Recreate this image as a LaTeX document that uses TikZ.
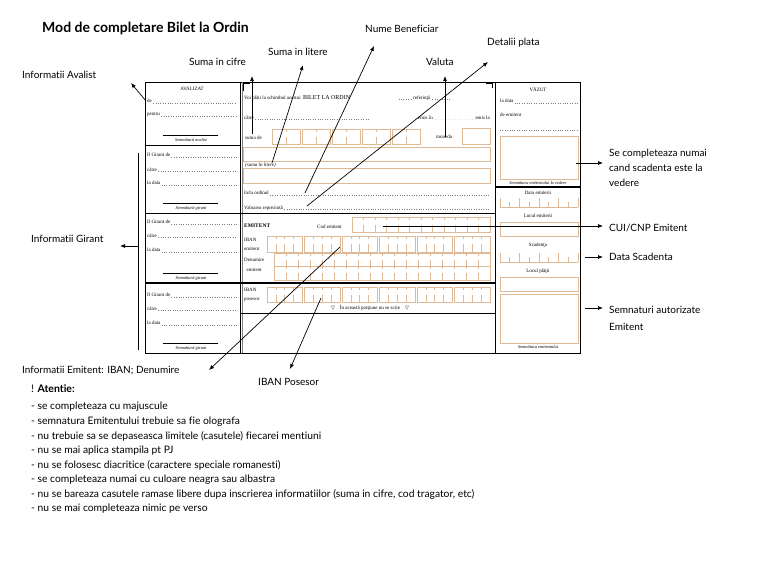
\documentclass[tikz,border=0pt]{standalone}
\usepackage{fontspec}
\setmainfont{Liberation Serif}
\newfontfamily\lato[Ligatures=NoCommon]{Lato}
\newfontfamily\symf{DejaVu Sans}
\usetikzlibrary{positioning,arrows.meta}
\definecolor{cellc}{RGB}{222,186,152}
\definecolor{dotc}{RGB}{125,125,125}
\tikzset{
	ft/.style={font=\fontsize{5}{6}\selectfont, inner sep=0pt, anchor=west},
	ftc/.style={ft, anchor=center},
	fti/.style={ft, anchor=center, font=\fontsize{4.4}{5}\selectfont\itshape},
	lbl/.style={font=\lato\fontsize{10}{12}\selectfont, inner sep=0pt, anchor=west},
	lead/.style={dotc, dotted, line width=0.4pt},
	cellline/.style={cellc, line width=0.6pt},
	callout/.style={-{Latex[length=5pt,width=4pt]}, line width=0.7pt},
	pics/cells/.style n args={3}{code={
		\draw[cellline] (0,0) rectangle (#1,#2);
		\pgfmathtruncatemacro\nlast{#3-1}
		\foreach \k in {1,...,\nlast}
			\draw[cellline] ({\k*#1/#3},#2) -- ++(0,{-0.5*#2}) ({\k*#1/#3},0) -- ++(0,{0.2*#2});
	}},
	pics/ruler/.style n args={2}{code={
		\draw[cellline] (0,0) -- (#1,0);
		\foreach \k in {0,...,#2} {
			\pgfmathsetmacro\h{ifthenelse(mod(\k,2)==0,9,5)}
			\draw[cellline] ({\k*#1/#2},0) -- ++(0,-\h);
		}
	}}
}

\begin{document}
\begin{tikzpicture}[x=1pt, y=-1pt, node distance=2pt]
\useasboundingbox (0,0) rectangle (768,576);

% FORM FRAME
\draw[line width=1pt] (145,82) rectangle (580,353);
\draw[line width=0.9pt] (240,82) -- (240,353);
\draw[gray, line width=0.4pt] (242.5,82) -- (242.5,353);
\draw[line width=0.9pt] (495,82) -- (495,353);
\draw[line width=0.7pt] (145,145) -- (240,145);
\draw[line width=0.9pt] (145,213) -- (495,213);
\draw[line width=1.1pt] (145,283) -- (495,283);
\draw[line width=0.6pt] (240,313) -- (495,313);
\draw[line width=1.1pt] (495,187) -- (580,187);
\draw[line width=1.6pt] (243.5,91) -- (243.5,83) -- (250,83);
\draw[line width=1.6pt] (486,83) -- (492.5,83) -- (492.5,88);
\coordinate (lcol) at (237,0);
\coordinate (ccol) at (490,0);
\coordinate (rcol) at (578,0);

% avalist
\node (avtitle) [ftc] at (192,89) {AVALIZAT};
\node (avde) [ft] at (147,101) {de};
\draw[lead] (avde.base east) ++(1,0) -- (avde.base east -| lcol);
\node (avpt) [ft] at (147,115) {pentru};
\draw[lead] (avpt.base east) ++(1,0) -- (avpt.base east -| lcol);
\draw[line width=0.4pt] (163,135) -- (218,135);
\node (avsig) [fti] at (191,140) {Semnătură avalist};

% giranti
\foreach \n/\a/\b/\c/\s in {1/155/170/183/203, 2/222/236/250/273, 3/295/309/323/343} {
	\node (gde\n) [ft] at (147,\a) {Il Girant de};
	\draw[lead] (gde\n.base east) ++(1,0) -- (gde\n.base east -| lcol);
	\node (gcat\n) [ft] at (147,\b) {către};
	\draw[lead] (gcat\n.base east) ++(1,0) -- (gcat\n.base east -| lcol);
	\node (gdat\n) [ft] at (147,\c) {la data};
	\draw[lead] (gdat\n.base east) ++(1,0) -- (gdat\n.base east -| lcol);
	\draw[line width=0.4pt] (163,\s) -- (218,\s);
	\node (gsig\n) [fti] at (191,\s+5.5) {Semnătură girant};
}

% bilet
\node (voi) [ft] at (244,98) {Voi plăti la schimbul acestui};
\node (bilet) [ft, font=\fontsize{6}{7}\selectfont, right=2pt of voi] {BILET LA ORDIN};
\node (ref) [ft] at (413,98) {referinţă};
\draw[lead] (ref.base west) ++(-2,0) -- ++(-14,0);
\draw[lead] (ref.base east) ++(2,0) -- ++(18,0);
\node (catre) [ft] at (244,118) {către};
\draw[lead] (catre.base east) ++(1,0) -- ++(113,0);
\node (emisin) [ft] at (418,118) {emis în};
\node (emisla) [ft, anchor=east] at (490,118) {emis la};
\draw[lead] (emisin.base east) ++(1,0) -- (emisla.base west);
\node (suma) [ft] at (245,138) {suma de};
\foreach \g in {0,...,4}
	\pic at ({272+\g*30},129) {cells={28}{15}{2}};
\node (moneda) [ft] at (436,137) {moneda};
\draw[cellline] (462,128) rectangle (490,144);
\draw[cellline] (243,147) rectangle (490,161);
\node (litere) [ft, font=\fontsize{5}{6}\selectfont\itshape] at (245,165) {(suma în litere)};
\draw[cellline] (243,168) rectangle (490,183);
\node (ordin) [ft] at (244,193) {în/la ordinul};
\draw[lead] (ordin.base east) ++(1,0) -- (ordin.base east -| ccol);
\node (valoare) [ft] at (244,208) {Valoarea reprezintă};
\draw[lead] (valoare.base east) ++(1,0) -- (valoare.base east -| ccol);

% emitent
\node (emitent) [ft, font=\fontsize{5.5}{6}\selectfont\bfseries] at (244,226) {EMITENT};
\node (cod) [ft] at (317,227) {Cod emitent};
\pic at (352,217) {cells={138}{15}{12}};
\node (ibane) [ft, align=left, font=\fontsize{5}{9}\selectfont] at (244,244.5) {IBAN\\emitent};
\foreach \g in {0,...,5}
	\pic at ({267+\g*37.5},236) {cells={35.5}{16}{4}};
\node (denum) [ft, align=center, font=\fontsize{5}{10}\selectfont] at (244,265) {Denumire\\emitent};
\foreach \r in {0,1}
	\pic at (274,{253+\r*13.5}) {cells={216}{13.5}{18}};
\node (ibanp) [ft, align=left, font=\fontsize{5}{9}\selectfont] at (244,294.5) {IBAN\\posesor};
\foreach \g in {0,...,5}
	\pic at ({267+\g*37.5},287) {cells={35.5}{15}{4}};
\node (noscr) [ftc] at (370,308) {{\symf ▽}\quad În această porţiune nu se scrie\quad{\symf ▽}};

% vazut
\node (vazut) [ftc] at (538,89) {VĂZUT};
\node (vdata) [ft] at (500,101) {la data};
\draw[lead] (vdata.base east) ++(1,0) -- (vdata.base east -| rcol);
\node (vde) [ft] at (500,115) {de emitent};
\draw[lead] (500,130) -- (578,130);
\draw[cellline] (500,136) rectangle (578,179);
\node (vsig) [fti] at (538,183) {Semnătura emitentului la vedere};
\node (dataem) [ftc] at (538,193) {Data emiterii};
\pic at (500,207) {ruler={78}{8}};
\node (locem) [ftc] at (538,216) {Locul emiterii};
\draw[cellline] (500,222) rectangle (578,236);
\node (scad) [ftc] at (538,245) {Scadenţa};
\pic at (500,262) {ruler={78}{8}};
\node (locpl) [ftc] at (538,271) {Locul plăţii};
\draw[cellline] (500,277) rectangle (578,291);
\draw[cellline] (500,294) rectangle (578,343);
\node (esig) [fti] at (538,347) {Semnătura emitentului};

% NODES
\node (title) [lbl, font=\lato\bfseries\fontsize{14}{16}\selectfont] at (42,28) {Mod de completare Bilet la Ordin};
\node (avalist) [lbl] at (22,75) {Informatii Avalist};
\node (cifre) [lbl] at (189,62) {Suma in cifre};
\node (litlbl) [lbl] at (268,52) {Suma in litere};
\node (benef) [lbl] at (365,29) {Nume Beneficiar};
\node (valuta) [lbl] at (426,62) {Valuta};
\node (detalii) [lbl] at (487,43) {Detalii plata};
\node (vedere) [lbl, align=left, anchor=north west, font=\lato\fontsize{10}{15}\selectfont] at (609,149) {Se completeaza numai\\cand scadenta este la\\vedere};
\node (cui) [lbl] at (609,228) {CUI/CNP Emitent};
\node (datasc) [lbl] at (609,257) {Data Scadenta};
\node (semn) [lbl, align=left, anchor=north west, font=\lato\fontsize{10}{17}\selectfont] at (609,306) {Semnaturi autorizate\\Emitent};
\node (girant) [lbl] at (31,239) {Informatii Girant};
\node (emiban) [lbl] at (22,371) {Informatii Emitent: IBAN; Denumire};
\node (posesor) [lbl] at (258,382) {IBAN Posesor};
\node (atn) [lbl, font=\lato\fontsize{10.5}{12}\selectfont] at (31,389) {! \textbf{Atentie:}};
\foreach \t [count=\i] in {{se completeaza cu majuscule},
	{semnatura Emitentului trebuie sa fie olografa},
	{nu trebuie sa se depaseasca limitele (casutele) fiecarei mentiuni},
	{nu se mai aplica stampila pt PJ},
	{nu se folosesc diacritice (caractere speciale romanesti)},
	{se completeaza numai cu culoare neagra sau albastra},
	{nu se bareaza casutele ramase libere dupa inscrierea informatiilor (suma in cifre, cod tragator, etc)},
	{nu se mai completeaza nimic pe verso}}
	\node (att\i) [lbl, font=\lato\fontsize{10.3}{12}\selectfont] at (31,{392.5+\i*14.5}) {- \t};

% arrow ends
\coordinate (avalist-from) at (146,101);
\coordinate (avalist-to) at (131,83);
\coordinate (cifre-from) at (252,134);
\coordinate (cifre-to) at (252,76);
\coordinate (litere-from) at (272,163);
\coordinate (litere-to) at (303,65);
\coordinate (benef-from) at (305,193);
\coordinate (benef-to) at (374,46);
\coordinate (valuta-from) at (445,137);
\coordinate (valuta-to) at (445,76);
\coordinate (detalii-from) at (307,206);
\coordinate (detalii-to) at (488,62);
\coordinate (vedere-from) at (576,163);
\coordinate (vedere-to) at (603,163);
\coordinate (cui-from) at (383,226);
\coordinate (cui-to) at (603,226);
\coordinate (datasc-from) at (585,257);
\coordinate (datasc-to) at (603,257);
\coordinate (semn-from) at (585,308);
\coordinate (semn-to) at (603,308);
\coordinate (girant-top) at (138,153);
\coordinate (girant-bot) at (138,350);
\coordinate (girant-from) at (138,246);
\coordinate (girant-to) at (120,246);
\coordinate (emiban-from) at (340,247);
\coordinate (emiban-to) at (209,370);
\coordinate (posesor-from) at (321,298);
\coordinate (posesor-to) at (290,369);

%CONNECTIONS
\draw[callout] (avalist-from) -- (avalist-to);
\draw[callout] (cifre-from) -- (cifre-to);
\draw[callout] (litere-from) -- (litere-to);
\draw[callout] (benef-from) -- (benef-to);
\draw[callout] (valuta-from) -- (valuta-to);
\draw[callout] (detalii-from) -- (detalii-to);
\draw[callout] (vedere-from) -- (vedere-to);
\draw[callout] (cui-from) -- (cui-to);
\draw[callout] (datasc-from) -- (datasc-to);
\draw[callout] (semn-from) -- (semn-to);
\draw[line width=0.7pt] (girant-top) -- (girant-bot);
\draw[callout] (girant-from) -- (girant-to);
\draw[callout] (emiban-from) -- (emiban-to);
\draw[callout] (posesor-from) -- (posesor-to);

\end{tikzpicture}
\end{document}
